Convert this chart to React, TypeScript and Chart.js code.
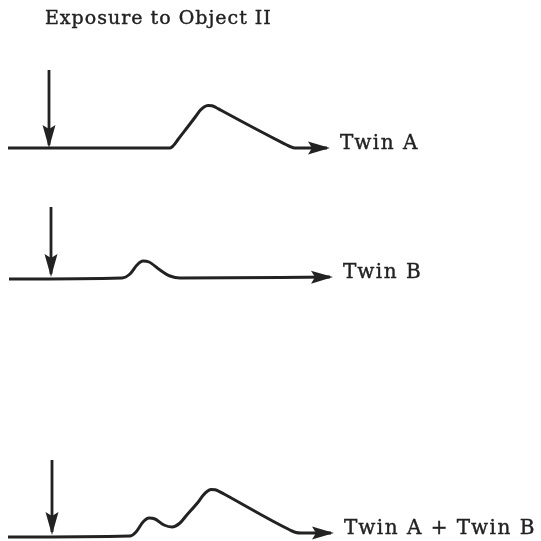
import React, { useEffect, useRef } from "react";
import { Chart, registerables } from "chart.js";

Chart.register(...registerables);

// Schematic time axis (arbitrary units) and response amplitudes above each trace baseline
const timeA = [1.6, 34, 34.6, 35.6, 39.2, 40, 40.8, 41.6, 42.4, 43.2, 44.2, 56.8, 58, 59, 65.4];
const ampA = [0, 0, 0.4, 1.7, 6.4, 7.5, 8.2, 8.5, 8.44, 8.1, 7.54, 0.88, 0.3, 0, 0];

const timeB = [1.8, 24.4, 26, 27.4, 28.6, 29.8, 32, 34, 36, 66];
const ampB = [0, 0.2, 1, 2.8, 3.6, 3.4, 1.8, 0.6, 0.2, 0.4];

const timeSum = [1.6, 26, 27.2, 28.6, 29.8, 31, 32.8, 34.4, 36, 37.2, 39.8, 40.6, 41.4, 42.2, 43, 43.8, 44.8, 58, 59.2, 60.2, 66.2];
const ampSum = [-0.2, 0, 0.8, 2.8, 3.6, 3.4, 2.2, 1.8, 2.6, 4, 7, 8.1, 8.9, 9.3, 9.24, 8.94, 8.4, 1.2, 0.7, 0.6, 0.6];

const traceLabels = ["Twin A", "Twin B", "Twin A + Twin B"];
const traceOffsets = [78.6, 52.4, 1.0];

const exposureTime = [9.8, 10.2, 10.4];
const exposureTop = [15.6, 14.4, 15.2];
const exposureTip = [0.6, 1.0, 0.8];

const titleText = "Exposure to Object II";

const INK = "#222222";

export default function App() {
  const canvasRef = useRef<HTMLCanvasElement | null>(null);

  useEffect(() => {
    document.body.style.margin = "0";
    const canvas = canvasRef.current;
    if (!canvas) return;

    const traces = [
      { t: timeA, a: ampA },
      { t: timeB, a: ampB },
      { t: timeSum, a: ampSum },
    ];

    const datasets: any[] = [];
    traces.forEach((tr, i) => {
      datasets.push({
        label: traceLabels[i],
        data: tr.t.map((x, k) => ({ x, y: traceOffsets[i] + tr.a[k] })),
        borderColor: INK,
        borderWidth: 3,
        pointRadius: 0,
        cubicInterpolationMode: "monotone",
        fill: false,
        arrow: { len: 22, half: 6.5, ext: 3 },
        endLabel: traceLabels[i],
      });
      datasets.push({
        label: "Exposure " + (i + 1),
        data: [
          { x: exposureTime[i], y: traceOffsets[i] + exposureTop[i] },
          { x: exposureTime[i], y: traceOffsets[i] + exposureTip[i] },
        ],
        borderColor: INK,
        borderWidth: 2.8,
        pointRadius: 0,
        tension: 0,
        fill: false,
        arrow: { len: 23, half: 6.5, ext: 3 },
      });
    });

    const drawText = (ctx: CanvasRenderingContext2D, s: string, x: number, y: number) => {
      ctx.fillText(s, x, y);
      ctx.strokeText(s, x, y);
    };

    const arrowPlugin = {
      id: "arrowsAndText",
      afterDatasetsDraw(chart: any) {
        const ctx = chart.ctx as any;
        ctx.save();
        ctx.strokeStyle = INK;
        ctx.lineWidth = 0.4;
        chart.data.datasets.forEach((ds: any, i: number) => {
          const pts = chart.getDatasetMeta(i).data;
          const n = pts.length;
          if (n < 2 || !ds.arrow) return;
          const last = pts[n - 1];
          const prev = pts[n - 2];
          const ang = Math.atan2(last.y - prev.y, last.x - prev.x);
          const { len, half, ext } = ds.arrow;
          const tipX = last.x + Math.cos(ang) * ext;
          const tipY = last.y + Math.sin(ang) * ext;
          const bx = tipX - Math.cos(ang) * len;
          const by = tipY - Math.sin(ang) * len;
          const px = -Math.sin(ang) * half;
          const py = Math.cos(ang) * half;
          ctx.fillStyle = INK;
          ctx.beginPath();
          ctx.moveTo(tipX, tipY);
          ctx.lineTo(bx + px, by + py);
          ctx.lineTo(bx + Math.cos(ang) * 4, by + Math.sin(ang) * 4);
          ctx.lineTo(bx - px, by - py);
          ctx.closePath();
          ctx.fill();
          if (ds.endLabel) {
            ctx.font = "20px 'DejaVu Serif'";
            ctx.letterSpacing = "1.5px";
            ctx.textBaseline = "middle";
            ctx.textAlign = "left";
            drawText(ctx, ds.endLabel, tipX + 10, tipY - 4);
          }
        });
        ctx.font = "19px 'DejaVu Serif'";
        ctx.letterSpacing = "1px";
        ctx.textBaseline = "middle";
        ctx.textAlign = "left";
        ctx.fillStyle = INK;
        drawText(ctx, titleText, 45, 19);
        ctx.restore();
      },
    };

    const chart = new Chart(canvas, {
      type: "line",
      data: { datasets },
      options: {
        animation: false,
        responsive: false,
        layout: { padding: 0 },
        scales: {
          x: { type: "linear", min: 0, max: 108.2, display: false },
          y: { type: "linear", min: 0, max: 108.2, display: false },
        },
        plugins: {
          legend: { display: false },
          tooltip: { enabled: false },
          title: { display: false },
        },
      },
      plugins: [arrowPlugin],
    });

    return () => chart.destroy();
  }, []);

  return (
    <div style={{ width: 541, height: 541, background: "#fff" }}>
      <canvas ref={canvasRef} width={541} height={541} />
    </div>
  );
}
